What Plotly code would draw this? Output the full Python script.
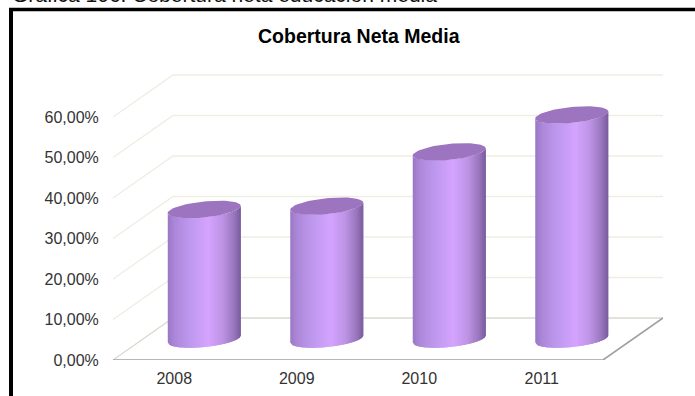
import numpy as np
import plotly.graph_objects as go

categories = ["2008", "2009", "2010", "2011"]
values = [32.0, 32.8, 46.2, 55.3]
y_ticks = [0, 10, 20, 30, 40, 50, 60]
y_labels = ["0,00%", "10,00%", "20,00%", "30,00%", "40,00%", "50,00%", "60,00%"]
title_text = "Cobertura Neta Media"
caption_text = "Gráfica 106: Cobertura neta educación media"

W, H = 695, 396
L, R, T, B = 113, 32, 74, 36
depth_x, depth_y = 0.49, 10.37
half_w, tilt, minor = 0.298, 0.864, 1.975
stops = [(0, "#9A78C6"), (0.1, "#AD88DA"), (0.3, "#BE98EE"), (0.55, "#D5A4FF"),
         (0.75, "#BE94E6"), (0.9, "#9C78C0"), (1, "#7A5C9E")]
cap_color = "#9C74BF"
grid_color = "#EFEDE2"


def hex2rgb(h):
    return np.array([int(h[i:i + 2], 16) for i in (1, 3, 5)], float)


def ramp(t):
    xs = [s[0] for s in stops]
    cs = np.array([hex2rgb(s[1]) for s in stops])
    return "rgb(%d,%d,%d)" % tuple(np.interp(t, xs, cs[:, k]) for k in range(3))


fig = go.Figure()


def line(x, y, color, width):
    fig.add_trace(go.Scatter(x=x, y=y, mode="lines", line=dict(color=color, width=width),
                             hoverinfo="skip", showlegend=False, cliponaxis=False))


x0, x1 = -0.5, len(categories) - 0.5
for v in y_ticks[::-1]:
    c = "#DADAD0" if v == 0 else grid_color
    line([x0, x0 + depth_x, x1 + depth_x], [v, v + depth_y, v + depth_y], c, 1.3)
line([x0, x1, x1 + depth_x], [0, 0, depth_y], "#A0A0A0", 1.6)

N = 40
for i, v in enumerate(values):
    cx = i + depth_x / 2
    base = depth_y / 2
    top = base + v
    edges = np.linspace(-1, 1, N + 1)
    for k in range(N):
        u = np.linspace(edges[k], min(edges[k + 1] + 0.06, 1), 5)
        xs = cx + half_w * u
        low = -minor * np.sqrt(np.clip(1 - u ** 2, 0, 1)) + tilt * u
        fig.add_trace(go.Scatter(
            x=np.r_[xs, xs[::-1]], y=np.r_[base + low, (top + low)[::-1]],
            mode="lines", fill="toself", fillcolor=ramp((k + 0.5) / N),
            line=dict(width=0), hoverinfo="skip", showlegend=False, cliponaxis=False))
    t = np.linspace(0, 2 * np.pi, 73)
    fig.add_trace(go.Scatter(
        x=cx + half_w * np.cos(t), y=top + tilt * np.cos(t) + minor * np.sin(t),
        mode="lines", fill="toself", fillcolor=cap_color, line=dict(width=0),
        hoverinfo="skip", showlegend=False, cliponaxis=False))


def px(x):
    return (x - L) / (W - L - R)


def py(y):
    return (H - B - y) / (H - B - T)


fig.add_shape(type="line", xref="paper", yref="paper", x0=px(11), x1=px(11.0), y0=py(9.5), y1=py(396),
              line=dict(color="black", width=4))
fig.add_shape(type="line", xref="paper", yref="paper", x0=px(9), x1=px(695), y0=py(9.5), y1=py(9.5),
              line=dict(color="black", width=3.5))
fig.add_annotation(xref="paper", yref="paper", x=px(9.5), y=py(-19), xanchor="left", yanchor="top",
                   text=caption_text, showarrow=False, align="left",
                   font=dict(family="Liberation Sans", size=21, color="#111111"))
fig.add_annotation(xref="paper", yref="paper", x=px(358.5), y=py(36), xanchor="center", yanchor="middle",
                   text="<b>%s</b>" % title_text, showarrow=False,
                   font=dict(family="Liberation Sans", size=19.5, color="#000000"))

fig.update_layout(
    width=W, height=H, margin=dict(l=L, r=R, t=T, b=B, pad=0), autosize=False,
    paper_bgcolor="white", plot_bgcolor="white", showlegend=False,
    xaxis=dict(range=[x0, x1 + depth_x], tickmode="array", tickvals=list(range(len(categories))),
               ticktext=categories, showgrid=False, zeroline=False, showline=False, automargin=False,
               ticks="outside", ticklen=4, tickcolor="rgba(0,0,0,0)",
               tickfont=dict(family="Liberation Sans", size=16, color="#333333")),
    yaxis=dict(range=[0, (H - B - T) / 4.05], tickmode="array", tickvals=y_ticks, ticktext=y_labels,
               showgrid=False, zeroline=False, showline=False, automargin=False,
               ticks="outside", ticklen=10, tickcolor="rgba(0,0,0,0)",
               tickfont=dict(family="Liberation Sans", size=16, color="#333333")),
)
fig.write_html("out.html", config={"displayModeBar": False},
               post_script="document.body.style.margin='0';document.body.style.overflow='hidden';")
